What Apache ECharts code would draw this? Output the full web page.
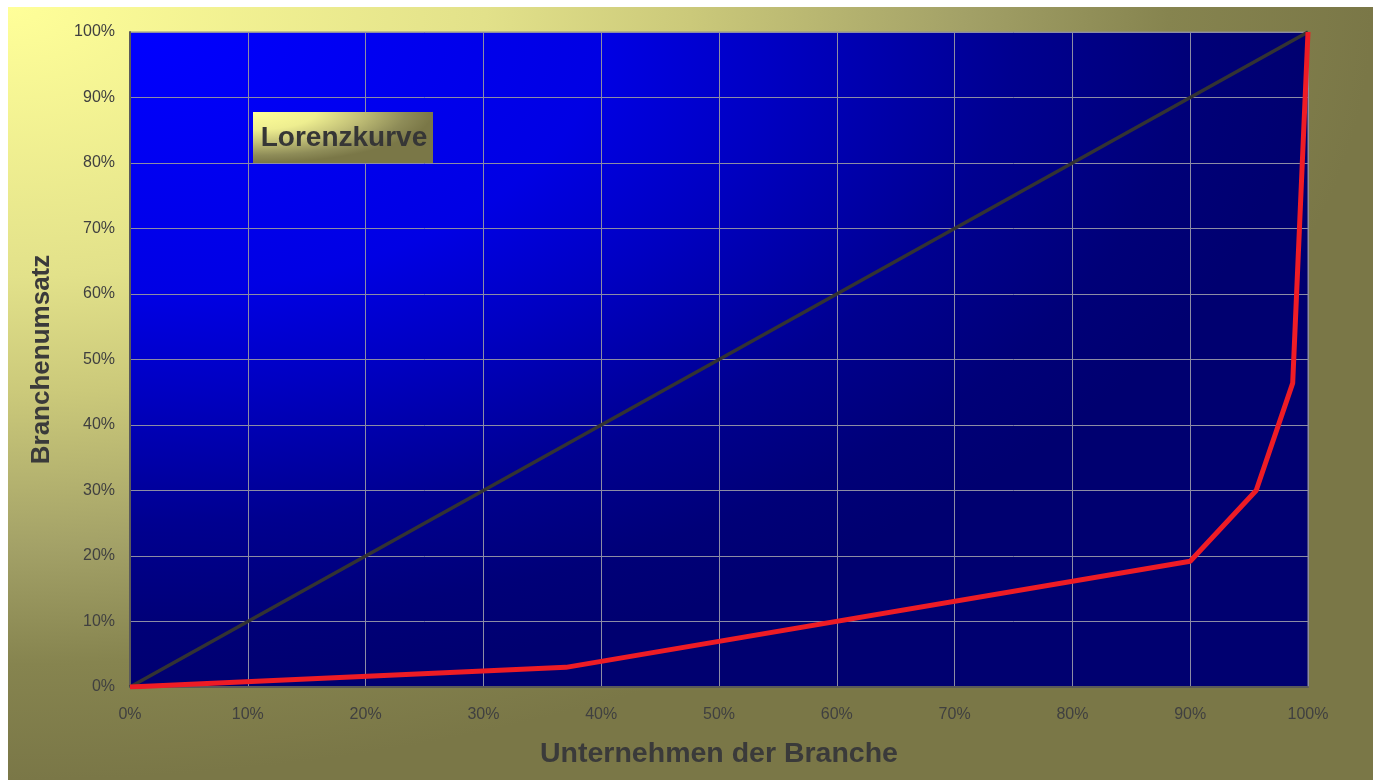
<!DOCTYPE html>
<html>
<head>
<meta charset="utf-8">
<script src="https://cdn.jsdelivr.net/npm/echarts@6/dist/echarts.min.js"></script>
<style>
html,body{margin:0;padding:0;background:#fff;}
#chart{width:1375px;height:780px;}
</style>
</head>
<body>
<div id="chart"></div>
<script>
// Data
const shareCompanies = [0, 37, 90, 95.6, 98.7, 100];   // % Unternehmen der Branche
const shareRevenue   = [0, 3, 19.2, 30, 46.4, 100];    // % Branchenumsatz
const equalityX = [0, 100];
const equalityY = [0, 100];
const xTicks = [0, 10, 20, 30, 40, 50, 60, 70, 80, 90, 100];
const titleText = 'Lorenzkurve';
const xName = 'Unternehmen der Branche';
const yName = 'Branchenumsatz';

const chart = echarts.init(document.getElementById('chart'), null, {renderer: 'canvas'});

function radial(stops) {
  return new echarts.graphic.RadialGradient(0, 0, 1, stops.map(s => ({offset: s[0], color: s[1]})));
}

const bgStops = [[0, '#ffff99'], [0.35, '#e2e18a'], [0.5, '#cbc97a'], [0.7, '#a3a167'], [0.85, '#86844f'], [1, '#7a7747']];
const plotStops = [[0, '#0000ff'], [0.4, '#0000e4'], [0.55, '#0000c2'], [0.75, '#000090'], [0.9, '#000078'], [1, '#000070']];
const boxStops = [[0, '#ffff99'], [0.35, '#eeee90'], [0.6, '#c2c077'], [0.85, '#8e8c58'], [1, '#7a7747']];

const G = {left: 130, top: 32, right: 1308, bottom: 687};

function scaledRect(x, y, w, h, stops, z) {
  const s = Math.min(w, h);
  return {
    type: 'rect', x: x, y: y, z: z, silent: true,
    scaleX: w / s, scaleY: h / s,
    shape: {x: 0, y: 0, width: s, height: s},
    style: {fill: radial(stops)}
  };
}

const FONT = '"Liberation Sans", Arial, sans-serif';

const option = {
  backgroundColor: 'transparent',
  animation: false,
  graphic: {
    elements: [
      scaledRect(8, 7, 1365, 773, bgStops, -20),
      scaledRect(G.left, G.top, G.right - G.left, G.bottom - G.top, plotStops, -10),
      scaledRect(253, 112, 180, 51, boxStops, 50),
      {
        type: 'text', x: 344, y: 138, z: 51, silent: true,
        style: {text: titleText, fill: '#363636', font: 'bold 28px ' + FONT, align: 'center', verticalAlign: 'middle'}
      }
    ]
  },
  grid: {
    left: G.left, top: G.top, width: G.right - G.left, height: G.bottom - G.top,
    show: true, borderColor: '#8e8e8a', borderWidth: 1, backgroundColor: 'transparent'
  },
  xAxis: {
    type: 'value', min: 0, max: 100, interval: 10,
    name: xName, nameLocation: 'middle', nameGap: 53,
    nameTextStyle: {fontFamily: FONT, fontWeight: 'bold', fontSize: 28.5, color: '#3a3a3a'},
    axisLine: {show: true, lineStyle: {color: '#5a5a5a', width: 2}},
    axisTick: {show: false},
    axisLabel: {formatter: '{value}%', margin: 20, fontFamily: FONT, fontSize: 16, color: '#404040'},
    splitLine: {show: true, lineStyle: {color: '#8c8ca4', width: 1}}
  },
  yAxis: {
    type: 'value', min: 0, max: 100, interval: 10,
    name: yName, nameLocation: 'middle', nameGap: 75, nameRotate: 90,
    nameTextStyle: {fontFamily: FONT, fontWeight: 'bold', fontSize: 26, color: '#3a3a3a'},
    axisLine: {show: true, lineStyle: {color: '#5a5a5a', width: 2}},
    axisTick: {show: false},
    axisLabel: {formatter: '{value}%', margin: 15, fontFamily: FONT, fontSize: 16, color: '#404040'},
    splitLine: {show: true, lineStyle: {color: '#8c8ca4', width: 1}}
  },
  series: [
    {
      type: 'line', name: 'Gleichverteilung',
      data: equalityX.map((x, i) => [x, equalityY[i]]),
      symbol: 'none', lineStyle: {color: '#333333', width: 3.5}, z: 3
    },
    {
      type: 'line', name: 'Lorenzkurve',
      data: shareCompanies.map((x, i) => [x, shareRevenue[i]]),
      symbol: 'none', lineStyle: {color: '#ee1c25', width: 5}, z: 4
    }
  ]
};
chart.setOption(option);
</script>
</body>
</html>
